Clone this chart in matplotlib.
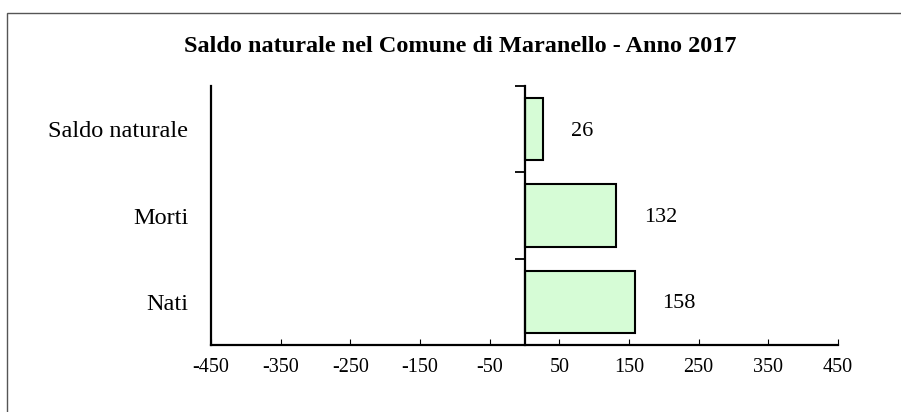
import matplotlib
matplotlib.use("Agg")
import matplotlib.pyplot as plt
from matplotlib.patches import Rectangle

# dati
categorie = ['Nati', 'Morti', 'Saldo naturale']
valori = [158, 132, 26]
tick_x = [-450, -350, -250, -150, -50, 50, 150, 250, 350, 450]
titolo = 'Saldo naturale nel Comune di Maranello - Anno 2017'

plt.rcParams['font.family'] = ['Liberation Serif', 'DejaVu Serif']

W, H = 901, 412
fig = plt.figure(figsize=(W / 100, H / 100), dpi=100)
ax = fig.add_axes([211 / W, (H - 345) / H, 627 / W, 259 / H])

pos = list(range(len(categorie)))
ax.barh(pos, valori, height=0.72, color='#d6fcd6', edgecolor='black',
        linewidth=1.5, zorder=3)

for y, v in zip(pos, valori):
    ax.annotate(str(v), (v, y), xytext=(28, -2), textcoords='offset pixels',
                ha='left', va='center', fontsize=16)

ax.set_xlim(-450, 450)
ax.set_ylim(-0.5, len(categorie) - 0.5)
ax.set_xticks(tick_x)
ax.set_xticklabels([str(t) for t in tick_x])
ax.set_yticks(pos)
ax.set_yticklabels(categorie)
ax.set_yticks([p - 0.5 for p in pos] + [len(pos) - 0.5], minor=True)

ax.spines['top'].set_visible(False)
ax.spines['right'].set_position(('data', 0))
for s in ['left', 'bottom', 'right']:
    ax.spines[s].set_linewidth(1.6)
    ax.spines[s].set_zorder(4)

ax.tick_params(axis='x', direction='in', length=4, width=0.8, pad=9,
               labelsize=14.5)
ax.tick_params(axis='y', which='major', left=False, right=False, pad=13,
               labelsize=17.5)
ax.tick_params(axis='y', which='minor', left=False, right=True,
               direction='in', length=7, width=1.3)

fig.text(460 / W, 1 - 46 / H, titolo, ha='center', va='center',
         fontsize=17.5, weight='bold')

# cornice del grafico
fig.patches.append(Rectangle((7 / W, -0.1), 1.2, 1 - 13 / H + 0.1,
                             transform=fig.transFigure, fill=False,
                             edgecolor='#555555', linewidth=1))

fig.savefig('out.png', dpi=100)
